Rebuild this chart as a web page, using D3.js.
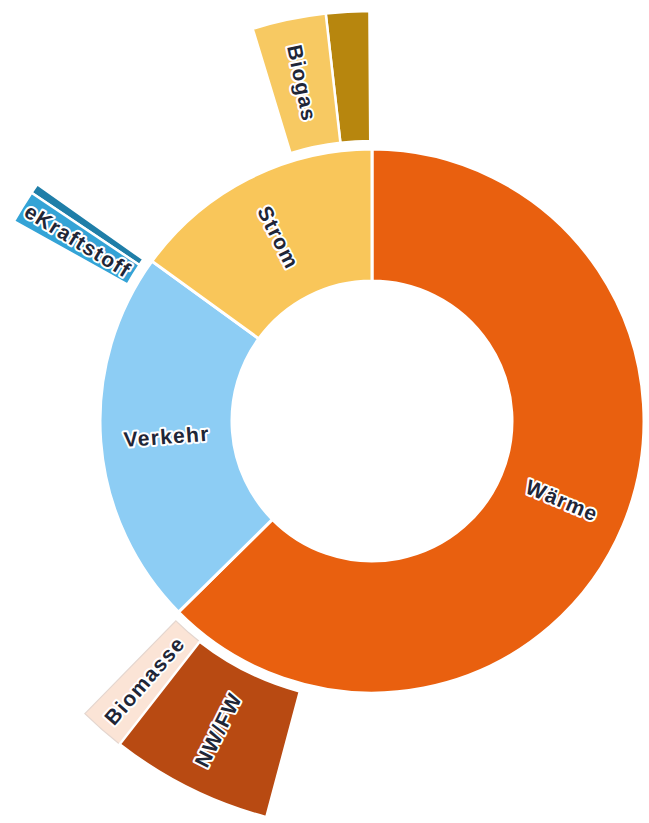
<!DOCTYPE html>
<html>
<head>
<meta charset="utf-8">
<script src="https://cdn.jsdelivr.net/npm/d3@7"></script>
<style>
  html, body { margin: 0; padding: 0; background: #ffffff; }
  svg { display: block; }
  .lbl { font-family: "Liberation Sans", Arial, sans-serif; font-size: 21px; font-weight: bold; fill: #1f2637;
         stroke: #ffffff; stroke-width: 4px; stroke-linejoin: round; paint-order: stroke; letter-spacing: 1.3px; }
</style>
</head>
<body>
<svg id="chart" width="649" height="823"></svg>
<script>
// ---- data (shares in % of total) ----
const categories = ["Wärme", "Verkehr", "Strom"];
const shares = [62.6, 22.4, 15.0];
const categoryColors = ["#E9600F", "#8DCDF4", "#F9C65A"];

// outer ring: sub-segments, placed at the end of their parent category
const subParents = ["Wärme", "Wärme", "Verkehr", "Verkehr", "Strom", "Strom"];
const subLabels = ["NW/FW", "Biomasse", "eKraftstoff", "", "Biogas", ""];
const subShares = [6.4, 1.8, 1.3, 0.4, 2.9, 1.7];
const subColors = ["#B84A12", "#FBE4D6", "#34A3D6", "#1F7EA8", "#F7C962", "#B7860E"];
// share left empty after the last sub-segment of each parent
const parentTail = [0.25, 0.2, 0.1];

const width = 649, height = 823;
const cx = 372, cy = 421;
const r0 = 140, r1 = 272, r2 = 280, r3 = 410;

const svg = d3.select("#chart");
const g = svg.append("g").attr("transform", `translate(${cx},${cy})`);

const total = d3.sum(shares);
const angle = d3.scaleLinear().domain([0, total]).range([0, 2 * Math.PI]);

// inner ring via pie
const pie = d3.pie().sort(null).value(d => d.value)
  .startAngle(0).endAngle(2 * Math.PI);
const inner = pie(categories.map((c, i) => ({ name: c, value: shares[i], color: categoryColors[i] })));

const arcInner = d3.arc().innerRadius(r0).outerRadius(r1);
g.selectAll("path.inner").data(inner).join("path")
  .attr("class", "inner")
  .attr("d", arcInner)
  .attr("fill", d => d.data.color)
  .attr("stroke", "#ffffff").attr("stroke-width", 3);

// outer ring segments
const cumEnd = d3.cumsum(shares);
const outer = [];
categories.forEach((c, pi) => {
  const idx = subParents.map((p, i) => p === c ? i : -1).filter(i => i >= 0);
  let end = cumEnd[pi] - parentTail[pi];
  for (let k = idx.length - 1; k >= 0; k--) {
    const i = idx[k];
    const start = end - subShares[i];
    outer.push({ label: subLabels[i], color: subColors[i], start, end });
    end = start;
  }
});

const arcOuter = d3.arc().innerRadius(r2).outerRadius(r3)
  .startAngle(d => angle(d.start)).endAngle(d => angle(d.end));
g.selectAll("path.outer").data(outer).join("path")
  .attr("class", "outer")
  .attr("d", arcOuter)
  .attr("fill", d => d.color)
  .attr("stroke", d => d.label === "Biomasse" ? "#e4d6cf" : "#ffffff")
  .attr("stroke-width", d => d.label === "Biomasse" ? 1.2 : 2.5);

// labels (sunburst-style radial rotation)
function labelTransform(a0, a1, rad) {
  const deg = (angle((a0 + a1) / 2)) * 180 / Math.PI;
  return `rotate(${deg - 90}) translate(${rad},0) rotate(${deg < 180 ? 0 : 180})`;
}
g.selectAll("text.in").data(inner).join("text")
  .attr("class", "lbl")
  .attr("transform", d => {
    const deg = ((d.startAngle + d.endAngle) / 2) * 180 / Math.PI;
    return `rotate(${deg - 90}) translate(${(r0 + r1) / 2},0) rotate(${deg < 180 ? 0 : 180})`;
  })
  .attr("text-anchor", "middle").attr("dy", "0.35em")
  .text(d => d.data.name);

g.selectAll("text.out").data(outer.filter(d => d.label)).join("text")
  .attr("class", "lbl")
  .attr("transform", d => labelTransform(d.start, d.end, (r2 + r3) / 2))
  .attr("text-anchor", "middle").attr("dy", "0.35em")
  .text(d => d.label);
</script>
</body>
</html>
